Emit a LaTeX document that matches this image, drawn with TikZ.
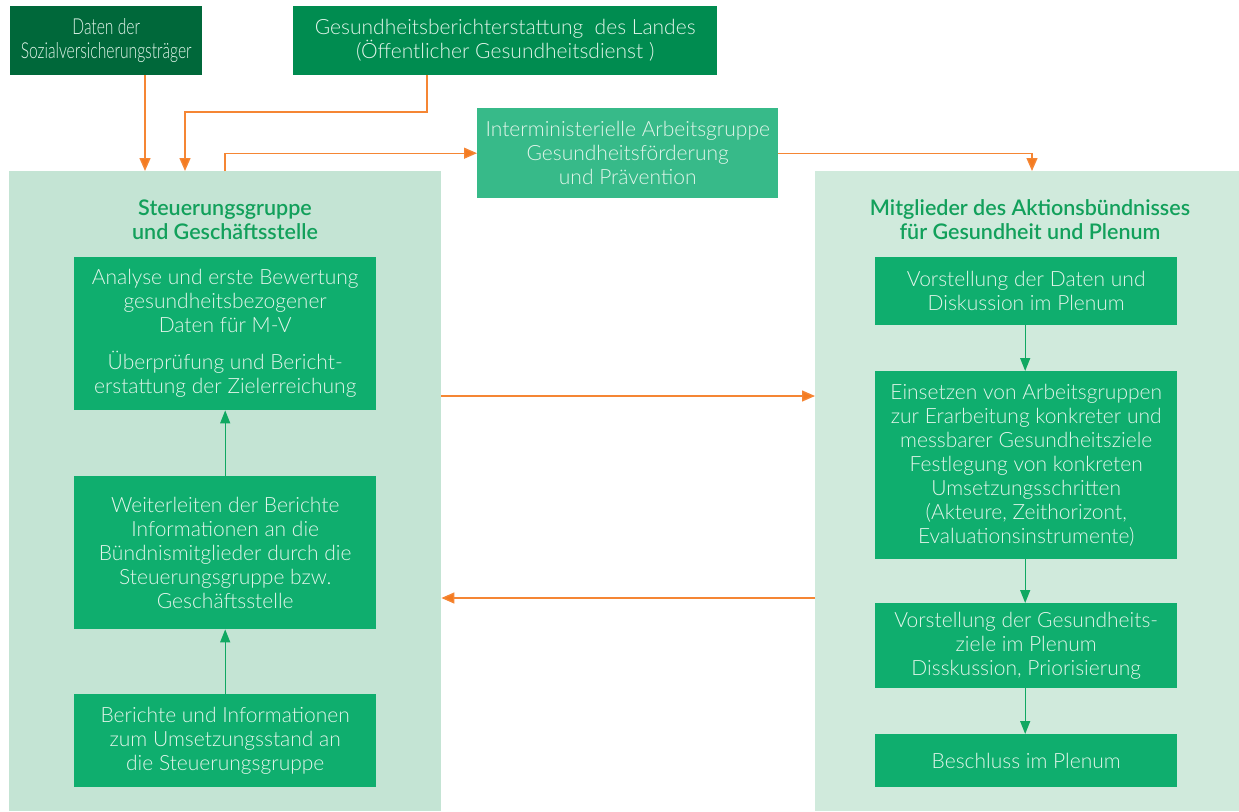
\documentclass[tikz,border=0pt]{standalone}
\usepackage{fontspec}
\setmainfont{Lato}[UprightFont=* Light, BoldFont=* Semibold]
\newfontfamily\condfont{Lato}[UprightFont=* Light, FakeStretch=0.71]
\usetikzlibrary{arrows.meta,calc}
\definecolor{orng}{HTML}{F58634}
\definecolor{orngtip}{HTML}{F47B20}
\definecolor{darkg}{HTML}{00683A}
\definecolor{midg}{HTML}{008C50}
\definecolor{lightg}{HTML}{37BA89}
\definecolor{boxg}{HTML}{0FAE6E}
\definecolor{panelL}{HTML}{C4E4D4}
\definecolor{panelR}{HTML}{D0EADC}
\definecolor{headg}{HTML}{12A05B}
\definecolor{txtl}{HTML}{E2F5EA}
\definecolor{arrg}{HTML}{10A862}
\tikzset{
  x=1pt,y=-1pt,
  bodyfont/.style={font=\fontsize{21}{24}\selectfont},
  gbox/.style={bodyfont, text=txtl, align=center, inner sep=0pt, anchor=north west},
  panel/.style={inner sep=0pt, anchor=north west},
  head/.style={font=\fontsize{21.5}{24}\selectfont\bfseries, text=headg, align=center},
  oarr/.style={draw=orng, line width=1.4pt, -{Triangle[length=13pt,width=11pt,fill=orngtip]}},
  garr/.style={draw=arrg, line width=1.3pt, -{Triangle[length=13pt,width=10pt,fill=arrg]}},
}
\begin{document}
\begin{tikzpicture}
\useasboundingbox (0,0) rectangle (1239,811);
% panels
\node[panel, fill=panelL, minimum width=432pt, minimum height=640pt] (lp) at (9,171) {};
\node[panel, fill=panelR, minimum width=424pt, minimum height=640pt] (rp) at (815,171) {};
% top boxes
\node[gbox, fill=darkg, minimum width=192pt, minimum height=69pt, font=\fontsize{22}{24}\selectfont\condfont] (src1) at (10,6) {Daten der\\Sozialversicherungsträger};
\node[gbox, fill=midg, minimum width=424pt, minimum height=69pt] (src2) at (293,6) {Gesundheitsberichterstattung\ \ des Landes\\(Öffentlicher Gesundheitsdienst )};
\node[gbox, fill=lightg, minimum width=301pt, minimum height=90pt] (imag) at (477,108) {Interministerielle Arbeitsgruppe\\Gesundheitsförderung\\und Prävention};
% headers
\node[head] (lh) at (225,220) {Steuerungsgruppe\\und Geschäftsstelle};
\node[head] (rh) at (1030,220) {Mitglieder des Aktionsbündnisses\\für Gesundheit und Plenum};
% left boxes
\node[gbox, fill=boxg, minimum width=302pt, minimum height=153pt] (l1) at (74,257) {Analyse und erste Bewertung\\gesundheitsbezogener\\Daten für M-V\\[13pt]Überprüfung und Bericht-\\erstattung der Zielerreichung};
\node[gbox, fill=boxg, minimum width=302pt, minimum height=153pt] (l2) at (74,476) {Weiterleiten der Berichte\\Informationen an die\\Bündnismitglieder durch die\\Steuerungsgruppe bzw.\\Geschäftsstelle};
\node[gbox, fill=boxg, minimum width=302pt, minimum height=93pt] (l3) at (74,694) {Berichte und Informationen\\zum Umsetzungsstand an\\die Steuerungsgruppe};
% right boxes
\node[gbox, fill=boxg, minimum width=302pt, minimum height=68pt] (r1) at (875,257) {Vorstellung der Daten und\\Diskussion im Plenum};
\node[gbox, fill=boxg, minimum width=302pt, minimum height=188pt] (r2) at (875,371) {Einsetzen von Arbeitsgruppen\\zur Erarbeitung konkreter und\\messbarer Gesundheitsziele\\Festlegung von konkreten\\Umsetzungsschritten\\(Akteure, Zeithorizont,\\Evaluationsinstrumente)};
\node[gbox, fill=boxg, minimum width=302pt, minimum height=85pt] (r3) at (875,603) {Vorstellung der Gesundheits-\\ziele im Plenum\\Disskussion, Priorisierung};
\node[gbox, fill=boxg, minimum width=302pt, minimum height=53pt] (r4) at (875,734) {Beschluss im Plenum};
% green arrows
\draw[garr] (l3.north) -- (l2.south);
\draw[garr] (l2.north) -- (l1.south);
\draw[garr] ([xshift=-1pt]r1.south) -- ([xshift=-1pt]r2.north);
\draw[garr] ([xshift=-1pt]r2.south) -- ([xshift=-1pt]r3.north);
\draw[garr] ([xshift=-1pt]r3.south) -- ([xshift=-1pt]r4.north);
% orange arrows
\draw[oarr] (src1.south -| 145,0) -- (lp.north -| 145,0);
\draw[oarr] (src2.south -| 427,0) |- (185,112) -- (lp.north -| 185,0);
\draw[oarr] (lp.north -| 225,0) |- (imag.west);
\draw[oarr] (imag.east) -| (rp.north -| 1032,0);
\draw[oarr] (lp.east |- 0,396) -- (rp.west |- 0,396);
\draw[oarr] (rp.west |- 0,598) -- (lp.east |- 0,598);
\end{tikzpicture}
\end{document}
